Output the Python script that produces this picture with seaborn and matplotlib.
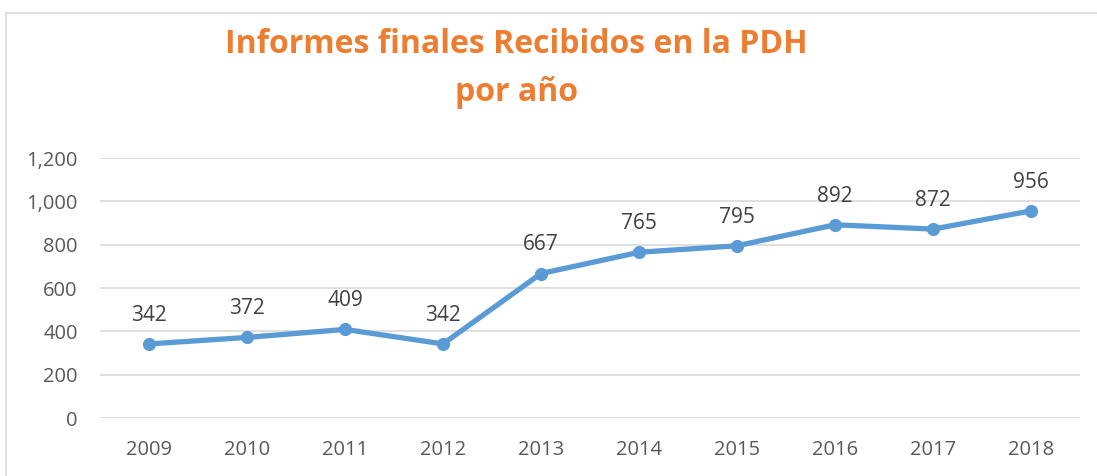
"""
Informes finales recibidos en la PDH por año - line chart
"""

import matplotlib
matplotlib.use("Agg")
import matplotlib.pyplot as plt
from matplotlib.patches import Rectangle
from matplotlib.ticker import FuncFormatter
import pandas as pd
import seaborn as sns

# Data
years = ["2009", "2010", "2011", "2012", "2013", "2014", "2015", "2016", "2017", "2018"]
informes = [342, 372, 409, 342, 667, 765, 795, 892, 872, 956]
y_ticks = [0, 200, 400, 600, 800, 1000, 1200]

title_lines = ["Informes finales Recibidos en la PDH", "por año"]

LINE_BLUE = "#5B9BD5"
TITLE_ORANGE = "#ED7D31"
GRID_GRAY = "#D9D9D9"
TICK_GRAY = "#595959"
LABEL_GRAY = "#404040"

sns.set_theme(style="white")
plt.rcParams["font.family"] = ["Open Sans", "DejaVu Sans"]

df = pd.DataFrame({"year": years, "informes": informes})

fig = plt.figure(figsize=(10.97, 4.76), dpi=100)
ax = fig.add_axes([0.0912, 0.1218, 0.8933, 0.5462])

# outer chart frame (light gray)
fig.patches.append(Rectangle((0.0055, -0.05), 1.2, 1.0227, transform=fig.transFigure,
                             fill=False, edgecolor="#D9D9D9", linewidth=1.2))

sns.lineplot(data=df, x="year", y="informes", ax=ax, color=LINE_BLUE,
             linewidth=3.8, marker="o", markersize=9.5, markeredgewidth=0, sort=False)

# data labels above each point
for i, v in enumerate(informes):
    ax.annotate(f"{v}", (i, v), xytext=(0, 13), textcoords="offset points",
                ha="center", va="bottom", fontsize=15, color=LABEL_GRAY)

ax.set_xlim(-0.5, len(years) - 0.5)
ax.set_ylim(0, 1200)
ax.set_yticks(y_ticks)
ax.yaxis.set_major_formatter(FuncFormatter(lambda v, _: f"{int(v):,}"))
ax.grid(axis="y", color=GRID_GRAY, linewidth=1.2)
ax.grid(axis="x", visible=False)
for spine in ax.spines.values():
    spine.set_visible(False)
ax.tick_params(axis="both", length=0, labelsize=14.5, colors=TICK_GRAY)
ax.tick_params(axis="x", pad=16)
ax.tick_params(axis="y", pad=16)
ax.set_xlabel("")
ax.set_ylabel("")

fig.text(0.4708, 0.907, title_lines[0], ha="center", va="center",
         fontsize=23, fontweight="bold", color=TITLE_ORANGE)
fig.text(0.4708, 0.805, title_lines[1], ha="center", va="center",
         fontsize=23, fontweight="bold", color=TITLE_ORANGE)

fig.savefig("out.png", dpi=100)
